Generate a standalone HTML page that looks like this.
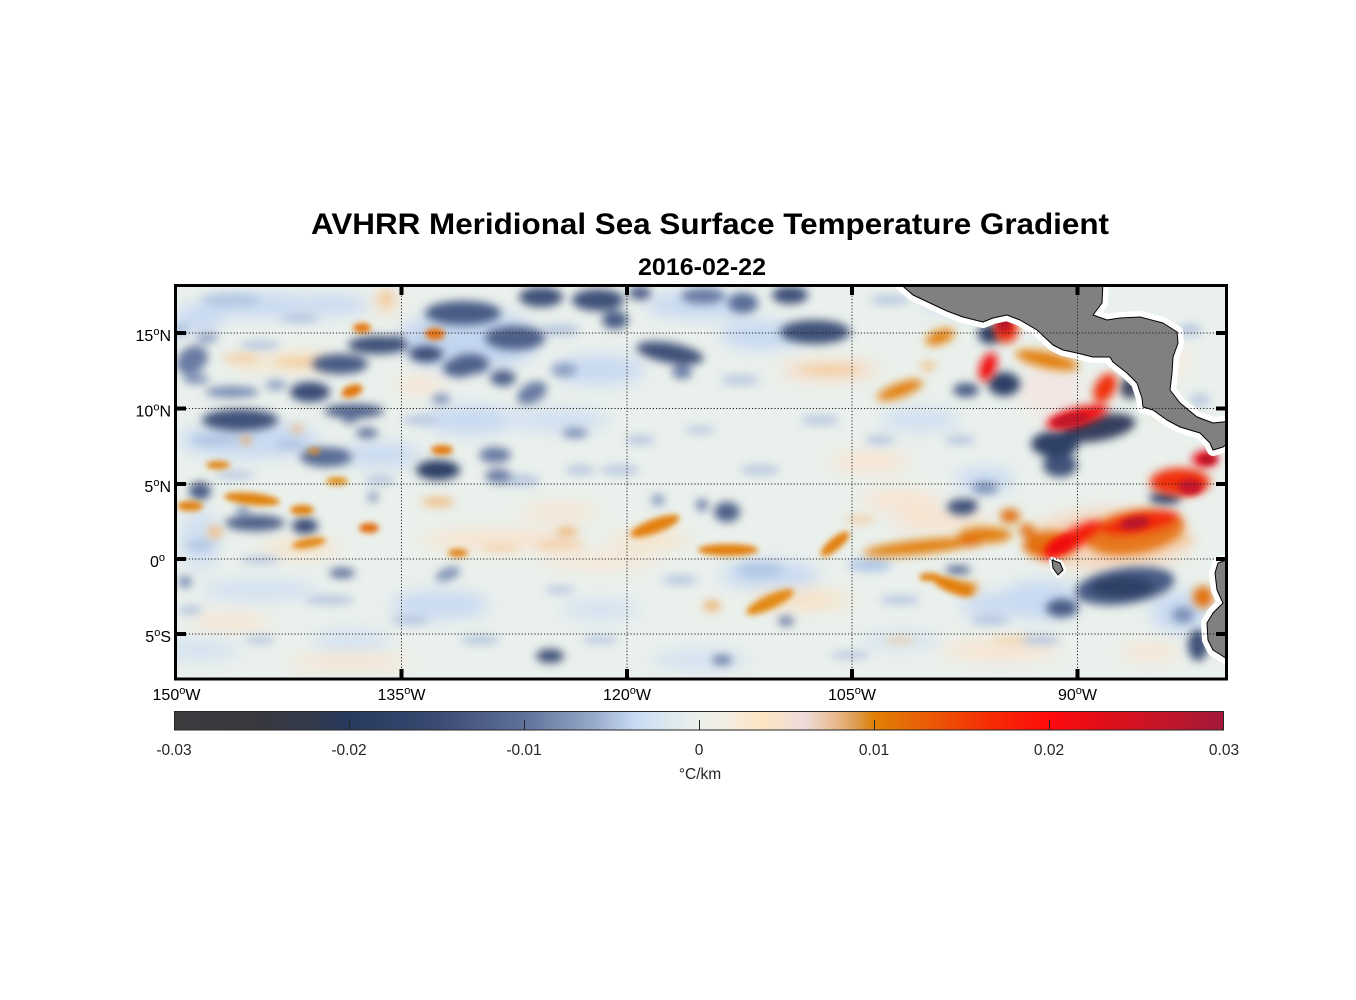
<!DOCTYPE html>
<html><head><meta charset="utf-8"><style>
html,body{margin:0;padding:0;background:#fff;}
svg{display:block;}
text{font-family:"Liberation Sans",Arial,sans-serif;}
</style></head><body>
<svg width="1356" height="1000" viewBox="0 0 1356 1000" xmlns="http://www.w3.org/2000/svg">
<defs>
<clipPath id="mc"><rect x="176" y="286" width="1050" height="393"/></clipPath>
<filter id="bL" x="-20%" y="-20%" width="140%" height="140%"><feGaussianBlur stdDeviation="8"/></filter>
<filter id="bM" x="-20%" y="-20%" width="140%" height="140%"><feGaussianBlur stdDeviation="4.5"/></filter>
<filter id="bS" x="-20%" y="-20%" width="140%" height="140%"><feGaussianBlur stdDeviation="3"/></filter>
<linearGradient id="cb" x1="0" x2="1" y1="0" y2="0">
<stop offset="0" stop-color="#3c3c3f"/>
<stop offset="0.08" stop-color="#38393f"/>
<stop offset="0.13" stop-color="#323a4b"/>
<stop offset="0.167" stop-color="#263a5f"/>
<stop offset="0.25" stop-color="#3a4a72"/>
<stop offset="0.333" stop-color="#5f709a"/>
<stop offset="0.40" stop-color="#98aaca"/>
<stop offset="0.44" stop-color="#c9dcf4"/>
<stop offset="0.47" stop-color="#dbe8ee"/>
<stop offset="0.50" stop-color="#ecf0ec"/>
<stop offset="0.53" stop-color="#f4ede0"/>
<stop offset="0.56" stop-color="#fde6c2"/>
<stop offset="0.60" stop-color="#eedcdc"/>
<stop offset="0.63" stop-color="#e9bb90"/>
<stop offset="0.65" stop-color="#dd9b4e"/>
<stop offset="0.667" stop-color="#e08005"/>
<stop offset="0.72" stop-color="#ea5a06"/>
<stop offset="0.78" stop-color="#f62a04"/>
<stop offset="0.833" stop-color="#ff0c0c"/>
<stop offset="0.88" stop-color="#e40e18"/>
<stop offset="0.94" stop-color="#c51628"/>
<stop offset="1" stop-color="#a2183a"/>
</linearGradient>
</defs>

<!-- Titles -->
<text x="311" y="234" font-size="30" font-weight="bold" fill="#000" textLength="798" lengthAdjust="spacingAndGlyphs">AVHRR Meridional Sea Surface Temperature Gradient</text>
<text x="638" y="275" font-size="24" font-weight="bold" fill="#000" textLength="128" lengthAdjust="spacingAndGlyphs">2016-02-22</text>

<!-- Map data -->
<g clip-path="url(#mc)">
<rect x="176" y="286" width="1050" height="393" fill="#eaf0ec"/>
<!-- broad light patches -->
<g filter="url(#bL)">
<ellipse cx="260" cy="305" rx="60" ry="12" fill="#c8daf2"/>
<ellipse cx="200" cy="318" rx="25" ry="14" fill="#c8daf2"/>
<ellipse cx="330" cy="305" rx="40" ry="10" fill="#c8daf2"/>
<ellipse cx="470" cy="340" rx="70" ry="30" fill="#c3d6f0"/>
<ellipse cx="600" cy="370" rx="45" ry="15" fill="#c8daf2"/>
<ellipse cx="560" cy="420" rx="50" ry="12" fill="#d0e0f2"/>
<ellipse cx="470" cy="420" rx="45" ry="15" fill="#c8daf2"/>
<ellipse cx="250" cy="440" rx="70" ry="18" fill="#c8daf2"/>
<ellipse cx="380" cy="455" rx="40" ry="12" fill="#c8daf2"/>
<ellipse cx="700" cy="305" rx="55" ry="14" fill="#c8daf2"/>
<ellipse cx="760" cy="335" rx="40" ry="15" fill="#c8daf2"/>
<ellipse cx="960" cy="300" rx="40" ry="12" fill="#c8daf2"/>
<ellipse cx="920" cy="420" rx="40" ry="12" fill="#d0e0f2"/>
<ellipse cx="985" cy="480" rx="30" ry="12" fill="#c8daf2"/>
<ellipse cx="260" cy="590" rx="60" ry="10" fill="#d0e0f2"/>
<ellipse cx="440" cy="605" rx="50" ry="14" fill="#c8daf2"/>
<ellipse cx="600" cy="610" rx="40" ry="10" fill="#d3e2f2"/>
<ellipse cx="770" cy="575" rx="50" ry="14" fill="#c8daf2"/>
<ellipse cx="1000" cy="605" rx="40" ry="12" fill="#c8daf2"/>
<ellipse cx="1180" cy="612" rx="30" ry="20" fill="#c8daf2"/>
<ellipse cx="200" cy="650" rx="40" ry="10" fill="#d3e2f2"/>
<ellipse cx="350" cy="640" rx="40" ry="10" fill="#d3e2f2"/>
<ellipse cx="700" cy="660" rx="50" ry="10" fill="#d3e2f2"/>
<ellipse cx="900" cy="640" rx="40" ry="8" fill="#d3e2f2"/>
<ellipse cx="200" cy="540" rx="20" ry="30" fill="#d0e0f2"/>
<ellipse cx="1040" cy="600" rx="40" ry="20" fill="#c8daf2"/>
<ellipse cx="1160" cy="360" rx="30" ry="20" fill="#f6ede2"/>
<ellipse cx="300" cy="362" rx="40" ry="8" fill="#f9e0c0"/>
<ellipse cx="420" cy="385" rx="25" ry="8" fill="#f8e4d0"/>
<ellipse cx="500" cy="540" rx="80" ry="10" fill="#f8e4cf"/>
<ellipse cx="650" cy="540" rx="40" ry="8" fill="#f8e2c6"/>
<ellipse cx="800" cy="600" rx="50" ry="10" fill="#f8e2c6"/>
<ellipse cx="1000" cy="650" rx="60" ry="10" fill="#f8e4d0"/>
<ellipse cx="300" cy="548" rx="40" ry="8" fill="#f8e2c6"/>
<ellipse cx="560" cy="512" rx="40" ry="8" fill="#f8e4d0"/>
<ellipse cx="830" cy="370" rx="50" ry="10" fill="#f6dcc4"/>
<ellipse cx="900" cy="500" rx="40" ry="10" fill="#f8e4d0"/>
<ellipse cx="350" cy="662" rx="60" ry="8" fill="#f8e4d0"/>
<ellipse cx="230" cy="622" rx="40" ry="8" fill="#f8e4d0"/>
<ellipse cx="1150" cy="652" rx="30" ry="8" fill="#f8e4d0"/>
<ellipse cx="870" cy="462" rx="40" ry="10" fill="#f8e4d0"/>
<ellipse cx="386" cy="302" rx="10" ry="12" fill="#f5d8b8"/>
<ellipse cx="255" cy="362" rx="24" ry="6" fill="#f9e0c0"/>
<ellipse cx="1050" cy="390" rx="30" ry="25" fill="#f3e6e2"/>
<ellipse cx="1110" cy="540" rx="80" ry="30" fill="#f4d6bc"/>
<ellipse cx="600" cy="560" rx="60" ry="8" fill="#f8e6d4"/>
<ellipse cx="940" cy="520" rx="50" ry="10" fill="#f8e2ce"/>
</g>
<!-- medium-light texture -->
<g filter="url(#bM)" fill="#a8bcdc" opacity="0.75">
<ellipse cx="230" cy="300" rx="30" ry="6"/>
<ellipse cx="300" cy="318" rx="20" ry="5"/>
<ellipse cx="180" cy="330" rx="10" ry="8"/>
<ellipse cx="260" cy="345" rx="20" ry="5"/>
<ellipse cx="215" cy="440" rx="25" ry="5"/>
<ellipse cx="290" cy="445" rx="15" ry="5"/>
<ellipse cx="235" cy="475" rx="20" ry="4"/>
<ellipse cx="380" cy="480" rx="15" ry="5"/>
<ellipse cx="200" cy="545" rx="15" ry="5"/>
<ellipse cx="260" cy="560" rx="20" ry="4"/>
<ellipse cx="330" cy="600" rx="25" ry="5"/>
<ellipse cx="410" cy="620" rx="20" ry="5"/>
<ellipse cx="480" cy="640" rx="20" ry="5"/>
<ellipse cx="260" cy="640" rx="15" ry="4"/>
<ellipse cx="560" cy="590" rx="15" ry="4"/>
<ellipse cx="620" cy="470" rx="20" ry="5"/>
<ellipse cx="640" cy="440" rx="15" ry="5"/>
<ellipse cx="760" cy="470" rx="20" ry="5"/>
<ellipse cx="820" cy="420" rx="20" ry="5"/>
<ellipse cx="880" cy="440" rx="15" ry="5"/>
<ellipse cx="900" cy="600" rx="20" ry="5"/>
<ellipse cx="990" cy="620" rx="20" ry="5"/>
<ellipse cx="1040" cy="640" rx="20" ry="5"/>
<ellipse cx="850" cy="655" rx="20" ry="4"/>
<ellipse cx="1150" cy="380" rx="15" ry="8"/>
<ellipse cx="1190" cy="330" rx="12" ry="6"/>
<ellipse cx="1200" cy="400" rx="10" ry="6"/>
<ellipse cx="960" cy="440" rx="15" ry="5"/>
<ellipse cx="520" cy="480" rx="20" ry="6"/>
<ellipse cx="580" cy="470" rx="15" ry="5"/>
<ellipse cx="700" cy="430" rx="15" ry="4"/>
<ellipse cx="740" cy="380" rx="20" ry="5"/>
<ellipse cx="890" cy="300" rx="20" ry="5"/>
<ellipse cx="560" cy="330" rx="20" ry="6"/>
<ellipse cx="420" cy="420" rx="18" ry="5"/>
<ellipse cx="680" cy="580" rx="18" ry="5"/>
<ellipse cx="600" cy="640" rx="18" ry="4"/>
<ellipse cx="190" cy="610" rx="12" ry="5"/>
</g>
<g filter="url(#bM)" fill="#f3c898" opacity="0.8">
<ellipse cx="300" cy="362" rx="25" ry="4"/>
<ellipse cx="240" cy="358" rx="18" ry="4"/>
<ellipse cx="560" cy="545" rx="25" ry="4"/>
<ellipse cx="830" cy="370" rx="30" ry="4"/>
<ellipse cx="386" cy="298" rx="6" ry="8"/>
<ellipse cx="500" cy="548" rx="20" ry="3"/>
<ellipse cx="860" cy="520" rx="15" ry="4"/>
<ellipse cx="1180" cy="540" rx="14" ry="5"/>
<ellipse cx="1160" cy="410" rx="8" ry="8"/>
<ellipse cx="900" cy="640" rx="15" ry="3"/>
<ellipse cx="1010" cy="640" rx="18" ry="3"/>
</g>
<!-- blue structures -->
<g filter="url(#bM)">
<ellipse cx="192" cy="360" rx="17" ry="13" fill="#6a7ca4" transform="rotate(-35 192 360)"/>
<ellipse cx="196" cy="379" rx="13" ry="5" fill="#7d90b6"/>
<ellipse cx="207" cy="338" rx="11" ry="5" fill="#8ea0c2"/>
<ellipse cx="232" cy="392" rx="27" ry="6" fill="#7d90b6"/>
<ellipse cx="276" cy="385" rx="11" ry="5" fill="#8ea0c2"/>
<ellipse cx="240" cy="420" rx="38" ry="11" fill="#3f5179"/>
<ellipse cx="354" cy="411" rx="30" ry="7" fill="#4f6189"/>
<ellipse cx="378" cy="345" rx="30" ry="9" fill="#3f5179"/>
<ellipse cx="340" cy="364" rx="28" ry="10" fill="#4a5c85"/>
<ellipse cx="310" cy="392" rx="20" ry="10" fill="#3a4c76"/>
<ellipse cx="426" cy="354" rx="17" ry="8" fill="#3a4c76"/>
<ellipse cx="459" cy="368" rx="16" ry="9" fill="#4f6189"/>
<ellipse cx="326" cy="457" rx="26" ry="10" fill="#5a6d96"/>
<ellipse cx="367" cy="433" rx="11" ry="5" fill="#5a6d96"/>
<ellipse cx="350" cy="419" rx="8" ry="5" fill="#6a7ca4"/>
<ellipse cx="438" cy="470" rx="22" ry="10" fill="#2f4066"/>
<ellipse cx="495" cy="455" rx="16" ry="8" fill="#6a7ca4"/>
<ellipse cx="498" cy="476" rx="13" ry="7" fill="#6a7ca4"/>
<ellipse cx="200" cy="491" rx="11" ry="9" fill="#4a5c85"/>
<ellipse cx="255" cy="523" rx="30" ry="8" fill="#4f6189"/>
<ellipse cx="305" cy="526" rx="13" ry="8" fill="#3a4c76"/>
<ellipse cx="243" cy="510" rx="7" ry="4" fill="#7d90b6"/>
<ellipse cx="373" cy="497" rx="5" ry="5" fill="#7d90b6"/>
<ellipse cx="342" cy="573" rx="13" ry="5" fill="#5a6d96"/>
<ellipse cx="448" cy="574" rx="13" ry="6" fill="#7d90b6" transform="rotate(-20 448 574)"/>
<ellipse cx="185" cy="582" rx="7" ry="6" fill="#7d90b6"/>
<ellipse cx="463" cy="313" rx="38" ry="12" fill="#4a5c85"/>
<ellipse cx="541" cy="297" rx="22" ry="10" fill="#3f5179"/>
<ellipse cx="598" cy="300" rx="26" ry="11" fill="#3f5179"/>
<ellipse cx="615" cy="320" rx="13" ry="9" fill="#4a5c85"/>
<ellipse cx="515" cy="338" rx="30" ry="12" fill="#4f6189"/>
<ellipse cx="396" cy="343" rx="9" ry="7" fill="#3f5179"/>
<ellipse cx="470" cy="364" rx="19" ry="10" fill="#4f6189"/>
<ellipse cx="503" cy="378" rx="13" ry="8" fill="#4f6189"/>
<ellipse cx="532" cy="393" rx="16" ry="10" fill="#6a7ca4" transform="rotate(-30 532 393)"/>
<ellipse cx="441" cy="399" rx="9" ry="5" fill="#7d90b6"/>
<ellipse cx="564" cy="370" rx="13" ry="7" fill="#8ea0c2"/>
<ellipse cx="640" cy="293" rx="11" ry="7" fill="#4f6189"/>
<ellipse cx="670" cy="353" rx="34" ry="10" fill="#3f5179" transform="rotate(10 670 353)"/>
<ellipse cx="682" cy="372" rx="10" ry="7" fill="#6a7ca4"/>
<ellipse cx="703" cy="296" rx="22" ry="8" fill="#6a7ca4"/>
<ellipse cx="743" cy="303" rx="15" ry="10" fill="#5a6d96"/>
<ellipse cx="790" cy="295" rx="18" ry="9" fill="#3f5179"/>
<ellipse cx="815" cy="332" rx="35" ry="12" fill="#3f5179"/>
<ellipse cx="575" cy="433" rx="13" ry="5" fill="#7d90b6"/>
<ellipse cx="727" cy="512" rx="13" ry="10" fill="#4f6189"/>
<ellipse cx="658" cy="500" rx="7" ry="6" fill="#8ea0c2"/>
<ellipse cx="702" cy="505" rx="6" ry="6" fill="#6a7ca4"/>
<ellipse cx="550" cy="656" rx="14" ry="7" fill="#3f5179"/>
<ellipse cx="786" cy="621" rx="8" ry="5" fill="#6a7ca4"/>
<ellipse cx="722" cy="660" rx="10" ry="5" fill="#6a7ca4"/>
<ellipse cx="958" cy="570" rx="13" ry="4" fill="#4a5c85"/>
<ellipse cx="870" cy="565" rx="22" ry="7" fill="#b4c9e6"/>
<ellipse cx="760" cy="570" rx="24" ry="8" fill="#b4c9e6"/>
<ellipse cx="962" cy="507" rx="15" ry="8" fill="#3f5179"/>
<ellipse cx="985" cy="488" rx="13" ry="6" fill="#7d90b6"/>
<ellipse cx="990" cy="334" rx="12" ry="10" fill="#2f4066"/>
<ellipse cx="1004" cy="384" rx="16" ry="12" fill="#2f4066"/>
<ellipse cx="966" cy="390" rx="13" ry="7" fill="#4a5c85"/>
<ellipse cx="1060" cy="465" rx="17" ry="12" fill="#3f5179"/>
<ellipse cx="1098" cy="428" rx="38" ry="13" fill="#34405e" transform="rotate(-10 1098 428)"/>
<ellipse cx="1055" cy="444" rx="24" ry="13" fill="#2f4066"/>
<ellipse cx="1130" cy="388" rx="10" ry="11" fill="#3f4a60"/>
<ellipse cx="1165" cy="498" rx="16" ry="7" fill="#3f5179"/>
<ellipse cx="1125" cy="586" rx="50" ry="18" fill="#4a5c85" transform="rotate(-8 1125 586)"/>
<ellipse cx="1122" cy="587" rx="32" ry="11" fill="#2f3f66"/>
<ellipse cx="1062" cy="608" rx="16" ry="9" fill="#4a5c85"/>
<ellipse cx="1198" cy="645" rx="10" ry="16" fill="#3f5179"/>
<ellipse cx="1183" cy="615" rx="11" ry="8" fill="#7d90b6"/>
<ellipse cx="970" cy="505" rx="7" ry="6" fill="#3a4c76"/>
</g>
<!-- orange/red structures -->
<g filter="url(#bM)">
<ellipse cx="438" cy="502" rx="16" ry="5" fill="#f0c08a"/>
<ellipse cx="215" cy="532" rx="8" ry="6" fill="#f0c08a"/>
<ellipse cx="567" cy="532" rx="11" ry="4" fill="#f0b070"/>
<ellipse cx="712" cy="606" rx="9" ry="5" fill="#f0b070"/>
<ellipse cx="928" cy="366" rx="7" ry="5" fill="#f0c08a"/>
<ellipse cx="246" cy="440" rx="5" ry="4" fill="#e8a050"/>
<ellipse cx="297" cy="429" rx="5" ry="4" fill="#f0b070"/>
<ellipse cx="1135" cy="532" rx="50" ry="22" fill="#e6781a" transform="rotate(-10 1135 532)"/>
<ellipse cx="1050" cy="545" rx="27" ry="14" fill="#e27010"/>
<ellipse cx="985" cy="535" rx="27" ry="8" fill="#e28010"/>
<ellipse cx="920" cy="547" rx="57" ry="7" fill="#e28010" transform="rotate(-6 920 547)"/>
<ellipse cx="970" cy="541" rx="13" ry="6" fill="#e27008"/>
<ellipse cx="1010" cy="516" rx="10" ry="7" fill="#e27008"/>
<ellipse cx="1027" cy="530" rx="8" ry="6" fill="#e27008"/>
<ellipse cx="1203" cy="597" rx="10" ry="11" fill="#e27010"/>
<ellipse cx="968" cy="588" rx="10" ry="6" fill="#e28a20"/>
<ellipse cx="1047" cy="360" rx="32" ry="8" fill="#e28010" transform="rotate(12 1047 360)"/>
<ellipse cx="940" cy="337" rx="15" ry="7" fill="#e2800e" transform="rotate(-20 940 337)"/>
<ellipse cx="900" cy="390" rx="24" ry="7" fill="#e2800e" transform="rotate(-20 900 390)"/>
<ellipse cx="1180" cy="482" rx="30" ry="14" fill="#f03010"/>
<ellipse cx="1140" cy="523" rx="40" ry="11" fill="#f02a10" transform="rotate(-10 1140 523)"/>
<ellipse cx="1072" cy="540" rx="35" ry="10" fill="#f41a10" transform="rotate(-30 1072 540)"/>
<ellipse cx="1006" cy="330" rx="12" ry="13" fill="#ee3010"/>
<ellipse cx="988" cy="367" rx="8" ry="15" fill="#f01010" transform="rotate(20 988 367)"/>
<ellipse cx="1077" cy="417" rx="32" ry="9" fill="#f01010" transform="rotate(-15 1077 417)"/>
<ellipse cx="1105" cy="388" rx="10" ry="16" fill="#f03010" transform="rotate(30 1105 388)"/>
<ellipse cx="1205" cy="459" rx="13" ry="8" fill="#e8101a"/>
</g>
<g filter="url(#bS)">
<ellipse cx="362" cy="328" rx="9" ry="5" fill="#e2770a"/>
<ellipse cx="435" cy="334" rx="10" ry="6" fill="#e2700a"/>
<ellipse cx="352" cy="391" rx="11" ry="6" fill="#e0780c" transform="rotate(-20 352 391)"/>
<ellipse cx="218" cy="465" rx="12" ry="4" fill="#e28614"/>
<ellipse cx="314" cy="451" rx="6" ry="3" fill="#e08a20"/>
<ellipse cx="442" cy="450" rx="11" ry="5" fill="#e2770a"/>
<ellipse cx="337" cy="481" rx="11" ry="4" fill="#e0901a"/>
<ellipse cx="252" cy="499" rx="28" ry="6" fill="#e0820e" transform="rotate(6 252 499)"/>
<ellipse cx="190" cy="506" rx="13" ry="5" fill="#e0800a"/>
<ellipse cx="302" cy="510" rx="12" ry="5" fill="#e0800a"/>
<ellipse cx="369" cy="528" rx="10" ry="5" fill="#e06a08"/>
<ellipse cx="309" cy="543" rx="17" ry="5" fill="#e28a1a" transform="rotate(-10 309 543)"/>
<ellipse cx="458" cy="553" rx="10" ry="4" fill="#e08010"/>
<ellipse cx="655" cy="526" rx="26" ry="7" fill="#e2800e" transform="rotate(-20 655 526)"/>
<ellipse cx="728" cy="550" rx="30" ry="6" fill="#e2800e"/>
<ellipse cx="835" cy="544" rx="18" ry="6" fill="#e2800e" transform="rotate(-40 835 544)"/>
<ellipse cx="770" cy="602" rx="26" ry="7" fill="#e28a18" transform="rotate(-25 770 602)"/>
<ellipse cx="953" cy="586" rx="21" ry="7" fill="#e2800e" transform="rotate(20 953 586)"/>
<ellipse cx="930" cy="577" rx="11" ry="4" fill="#e2800e"/>
<ellipse cx="1004" cy="324" rx="8" ry="8" fill="#b8142c"/>
<ellipse cx="1070" cy="420" rx="19" ry="6" fill="#c0142a" transform="rotate(-12 1070 420)"/>
<ellipse cx="1190" cy="487" rx="12" ry="8" fill="#c8142a"/>
<ellipse cx="1135" cy="523" rx="15" ry="6" fill="#b8142c" transform="rotate(-10 1135 523)"/>
<ellipse cx="1208" cy="459" rx="8" ry="5" fill="#b8142c"/>
<ellipse cx="1060" cy="545" rx="15" ry="7" fill="#f01010" transform="rotate(-30 1060 545)"/>
</g>
<!-- land -->
<g stroke-linejoin="round">
<polygon points="898,282 913,295 930,303 947,311 963,317 983,322 993,318 1007,315 1020,320 1037,330 1053,345 1063,350 1077,353 1093,357 1110,357 1113,362 1127,373 1137,383 1142,398 1143,407 1153,410 1167,420 1180,427 1200,433 1210,443 1213,450 1223,447 1232,440 1232,421 1213,423 1197,417 1180,403 1170,390 1172,373 1173,357 1178,343 1177,332 1163,323 1140,317 1120,318 1107,320 1093,315 1102,303 1103,282" fill="#fff" stroke="#fff" stroke-width="12"/>
<polygon points="1232,558 1218,563 1215,573 1217,590 1223,603 1213,613 1207,623 1208,640 1213,650 1232,662" fill="#fff" stroke="#fff" stroke-width="12"/>
<polygon points="1052,560 1060,563 1063,570 1058,575 1053,568" fill="#fff" stroke="#fff" stroke-width="6"/>
<polygon points="898,282 913,295 930,303 947,311 963,317 983,322 993,318 1007,315 1020,320 1037,330 1053,345 1063,350 1077,353 1093,357 1110,357 1113,362 1127,373 1137,383 1142,398 1143,407 1153,410 1167,420 1180,427 1200,433 1210,443 1213,450 1223,447 1232,440 1232,421 1213,423 1197,417 1180,403 1170,390 1172,373 1173,357 1178,343 1177,332 1163,323 1140,317 1120,318 1107,320 1093,315 1102,303 1103,282" fill="#808080" stroke="#000" stroke-width="1"/>
<polygon points="1232,558 1218,563 1215,573 1217,590 1223,603 1213,613 1207,623 1208,640 1213,650 1232,662" fill="#808080" stroke="#000" stroke-width="1"/>
<polygon points="1052,560 1060,563 1063,570 1058,575 1053,568" fill="#808080" stroke="#000" stroke-width="1"/>
</g>
<!-- gridlines -->
<g stroke="#222" stroke-width="1" stroke-dasharray="1.2,2">
<line x1="176" y1="333" x2="1226" y2="333"/>
<line x1="176" y1="408.5" x2="1226" y2="408.5"/>
<line x1="176" y1="484" x2="1226" y2="484"/>
<line x1="176" y1="559" x2="1226" y2="559"/>
<line x1="176" y1="634" x2="1226" y2="634"/>
<line x1="401.5" y1="286" x2="401.5" y2="679"/>
<line x1="627" y1="286" x2="627" y2="679"/>
<line x1="852" y1="286" x2="852" y2="679"/>
<line x1="1077.5" y1="286" x2="1077.5" y2="679"/>
</g>
</g>
<!-- frame -->
<rect x="175.5" y="285.5" width="1051" height="393.5" fill="none" stroke="#000" stroke-width="3"/>
<!-- ticks -->
<g fill="#000">
<rect x="177" y="331" width="9" height="4"/>
<rect x="177" y="406.5" width="9" height="4"/>
<rect x="177" y="482" width="9" height="4"/>
<rect x="177" y="557" width="9" height="4"/>
<rect x="177" y="632" width="9" height="4"/>
<rect x="1216" y="331" width="9" height="4"/>
<rect x="1216" y="406.5" width="9" height="4"/>
<rect x="1216" y="482" width="9" height="4"/>
<rect x="1216" y="557" width="9" height="4"/>
<rect x="1216" y="632" width="9" height="4"/>
<rect x="399.5" y="287" width="4" height="8"/>
<rect x="625" y="287" width="4" height="8"/>
<rect x="850" y="287" width="4" height="8"/>
<rect x="1075.5" y="287" width="4" height="8"/>
<rect x="399.5" y="669" width="4" height="8.5"/>
<rect x="625" y="669" width="4" height="8.5"/>
<rect x="850" y="669" width="4" height="8.5"/>
<rect x="1075.5" y="669" width="4" height="8.5"/>
</g>
<!-- latitude labels -->
<g font-size="16" fill="#000" text-anchor="end">
<text x="171" y="341">15<tspan dy="-6" font-size="11">o</tspan><tspan dy="6">N</tspan></text>
<text x="171" y="416.5">10<tspan dy="-6" font-size="11">o</tspan><tspan dy="6">N</tspan></text>
<text x="171" y="492">5<tspan dy="-6" font-size="11">o</tspan><tspan dy="6">N</tspan></text>
<text x="165" y="567">0<tspan dy="-6" font-size="11">o</tspan></text>
<text x="171" y="642">5<tspan dy="-6" font-size="11">o</tspan><tspan dy="6">S</tspan></text>
</g>
<!-- longitude labels -->
<g font-size="16" fill="#000" text-anchor="middle">
<text x="176.5" y="700">150<tspan dy="-6" font-size="11">o</tspan><tspan dy="6">W</tspan></text>
<text x="401.5" y="700">135<tspan dy="-6" font-size="11">o</tspan><tspan dy="6">W</tspan></text>
<text x="627" y="700">120<tspan dy="-6" font-size="11">o</tspan><tspan dy="6">W</tspan></text>
<text x="852" y="700">105<tspan dy="-6" font-size="11">o</tspan><tspan dy="6">W</tspan></text>
<text x="1077.5" y="700">90<tspan dy="-6" font-size="11">o</tspan><tspan dy="6">W</tspan></text>
</g>
<!-- colorbar -->
<rect x="174.5" y="711.5" width="1049" height="18.5" fill="url(#cb)" stroke="#262626" stroke-width="1"/>
<g stroke="#262626" stroke-width="1">
<line x1="349.5" y1="720" x2="349.5" y2="730"/>
<line x1="524.5" y1="720" x2="524.5" y2="730"/>
<line x1="699.5" y1="720" x2="699.5" y2="730"/>
<line x1="874.5" y1="720" x2="874.5" y2="730"/>
<line x1="1049.5" y1="720" x2="1049.5" y2="730"/>
</g>
<g font-size="15.5" fill="#262626" text-anchor="middle">
<text x="174" y="755">-0.03</text>
<text x="349" y="755">-0.02</text>
<text x="524" y="755">-0.01</text>
<text x="699" y="755">0</text>
<text x="874" y="755">0.01</text>
<text x="1049" y="755">0.02</text>
<text x="1224" y="755">0.03</text>
<text x="700" y="779">°C/km</text>
</g>
</svg>
</body></html>
